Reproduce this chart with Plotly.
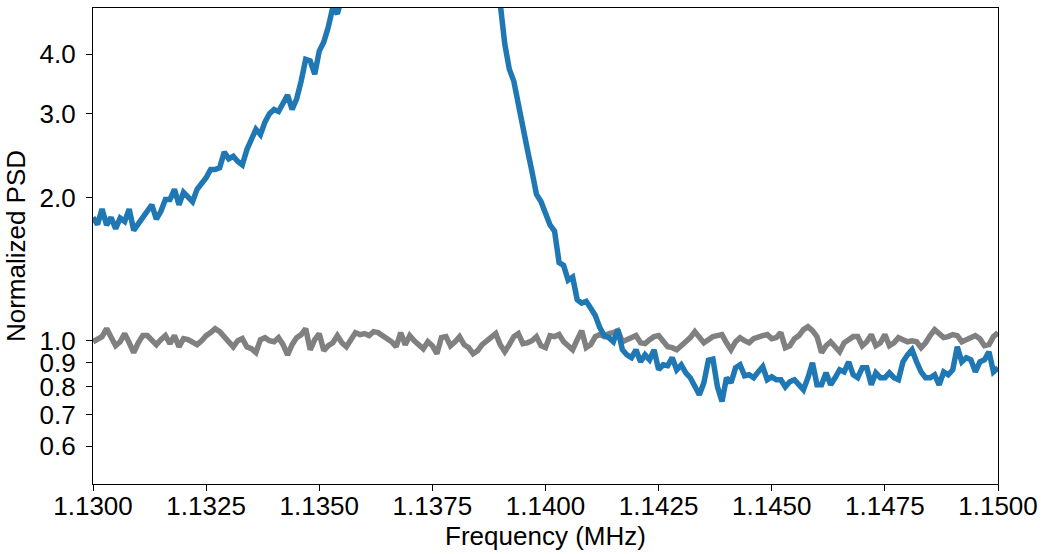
import plotly.graph_objects as go

freq_mhz = [
    1.1300, 1.1301, 1.1302, 1.1303, 1.1304, 1.1305, 1.1306, 1.1307, 1.1308, 1.1309,
    1.1310, 1.1311, 1.1312, 1.1313, 1.1314, 1.1315, 1.1316, 1.1317, 1.1318, 1.1319,
    1.1320, 1.1321, 1.1322, 1.1323, 1.1324, 1.1325, 1.1326, 1.1327, 1.1328, 1.1329,
    1.1330, 1.1331, 1.1332, 1.1333, 1.1334, 1.1335, 1.1336, 1.1337, 1.1338, 1.1339,
    1.1340, 1.1341, 1.1342, 1.1343, 1.1344, 1.1345, 1.1346, 1.1347, 1.1348, 1.1349,
    1.1350, 1.1351, 1.1352, 1.1353, 1.1354, 1.1355, 1.1356, 1.1357, 1.1358, 1.1359,
    1.1360, 1.1361, 1.1362, 1.1363, 1.1364, 1.1365, 1.1366, 1.1367, 1.1368, 1.1369,
    1.1370, 1.1371, 1.1372, 1.1373, 1.1374, 1.1375, 1.1376, 1.1377, 1.1378, 1.1379,
    1.1380, 1.1381, 1.1382, 1.1383, 1.1384, 1.1385, 1.1386, 1.1387, 1.1388, 1.1389,
    1.1390, 1.1391, 1.1392, 1.1393, 1.1394, 1.1395, 1.1396, 1.1397, 1.1398, 1.1399,
    1.1400, 1.1401, 1.1402, 1.1403, 1.1404, 1.1405, 1.1406, 1.1407, 1.1408, 1.1409,
    1.1410, 1.1411, 1.1412, 1.1413, 1.1414, 1.1415, 1.1416, 1.1417, 1.1418, 1.1419,
    1.1420, 1.1421, 1.1422, 1.1423, 1.1424, 1.1425, 1.1426, 1.1427, 1.1428, 1.1429,
    1.1430, 1.1431, 1.1432, 1.1433, 1.1434, 1.1435, 1.1436, 1.1437, 1.1438, 1.1439,
    1.1440, 1.1441, 1.1442, 1.1443, 1.1444, 1.1445, 1.1446, 1.1447, 1.1448, 1.1449,
    1.1450, 1.1451, 1.1452, 1.1453, 1.1454, 1.1455, 1.1456, 1.1457, 1.1458, 1.1459,
    1.1460, 1.1461, 1.1462, 1.1463, 1.1464, 1.1465, 1.1466, 1.1467, 1.1468, 1.1469,
    1.1470, 1.1471, 1.1472, 1.1473, 1.1474, 1.1475, 1.1476, 1.1477, 1.1478, 1.1479,
    1.1480, 1.1481, 1.1482, 1.1483, 1.1484, 1.1485, 1.1486, 1.1487, 1.1488, 1.1489,
    1.1490, 1.1491, 1.1492, 1.1493, 1.1494, 1.1495, 1.1496, 1.1497, 1.1498, 1.1499,
    1.1500,
]

psd_reference = [
    0.995, 1.005, 1.02, 1.06, 1.02, 0.976, 0.995, 1.035, 0.99, 0.944,
    0.99, 1.025, 1.025, 1.005, 0.981, 1.005, 1.025, 0.986, 1.025, 0.971,
    1.01, 1.005, 0.99, 0.981, 1.0, 1.025, 1.04, 1.06, 1.045, 1.02,
    0.986, 0.971, 1.0, 1.01, 0.971, 0.962, 0.944, 1.005, 1.015, 1.0,
    0.995, 1.015, 0.981, 0.934, 0.981, 1.015, 1.03, 1.06, 0.957, 1.005,
    1.035, 0.953, 0.976, 0.99, 1.025, 0.99, 0.971, 1.005, 1.04, 1.03,
    1.035, 1.025, 1.045, 1.04, 1.025, 1.015, 0.995, 0.971, 1.04, 0.981,
    1.025, 1.0, 0.976, 0.962, 0.995, 0.976, 0.939, 1.015, 1.02, 0.976,
    0.995, 1.02, 0.981, 0.967, 0.939, 0.953, 0.981, 1.0, 1.02, 1.035,
    0.981, 0.948, 0.981, 1.02, 1.035, 0.986, 0.99, 1.0, 1.02, 0.976,
    0.967, 1.025, 1.02, 1.03, 0.995, 0.971, 0.957, 1.005, 1.05, 0.967,
    0.981, 1.02, 1.03, 1.02, 1.035, 1.04, 1.05, 0.995, 1.005, 1.02,
    1.025, 0.99, 0.986, 1.005, 1.02, 1.025, 0.995, 0.971, 0.967, 0.957,
    0.976, 0.995, 1.015, 1.045, 1.015, 0.99, 1.005, 1.02, 1.025, 1.03,
    0.99, 0.957, 0.995, 1.015, 1.0, 0.99, 1.01, 1.02, 1.025, 1.03,
    1.01, 1.015, 1.04, 0.967, 0.976, 1.01, 1.025, 1.055, 1.07, 1.05,
    1.02, 0.944, 0.976, 0.995, 0.971, 0.948, 0.99, 1.005, 1.02, 1.02,
    0.976, 0.995, 1.03, 0.976, 0.99, 1.03, 0.976, 0.99, 1.015, 1.005,
    0.995, 1.0, 0.995, 0.967, 0.99, 1.025, 1.055, 1.035, 1.015, 1.02,
    1.03, 1.025, 0.995, 1.005, 1.015, 1.025, 1.01, 0.976, 0.981, 1.02,
    1.04,
]

psd_signal = [
    1.815, 1.755, 1.89, 1.75, 1.815, 1.72, 1.81, 1.78, 1.89, 1.705,
    1.76, 1.815, 1.86, 1.93, 1.80, 1.87, 1.98, 1.98, 2.08, 1.93,
    2.05, 2.00, 1.96, 2.08, 2.14, 2.20, 2.29, 2.29, 2.31, 2.49,
    2.41, 2.44, 2.38, 2.34, 2.52, 2.65, 2.78, 2.71, 2.88, 3.00,
    3.06, 3.03, 3.14, 3.28, 3.06, 3.22, 3.51, 3.90, 3.87, 3.63,
    4.06, 4.24, 4.56, 5.02, 4.86, 5.2, 5.6, 6.1, 6.6, 7.2,
    7.9, 8.6, 9.4, 10.2, 11.1, 12.0, 13.0, 14.0, 15.0, 16.0,
    16.8, 17.4, 17.8, 18.0, 17.9, 17.5, 16.8, 15.9, 14.8, 14.4,
    14.0, 13.0, 12.0, 11.0, 10.0, 9.0, 8.1, 7.3, 6.5, 5.8,
    5.1, 4.2, 3.72, 3.51, 3.11, 2.78, 2.52, 2.27, 2.03, 1.96,
    1.86, 1.75, 1.70, 1.46, 1.44, 1.34, 1.36, 1.22, 1.20, 1.21,
    1.17, 1.13, 1.065, 1.025, 1.015, 0.995, 1.055, 0.957, 0.934, 0.921,
    0.957, 0.903, 0.934, 0.912, 0.957, 0.869, 0.890, 0.886, 0.921, 0.869,
    0.890, 0.856, 0.836, 0.800, 0.770, 0.816, 0.910, 0.915, 0.800, 0.745,
    0.836, 0.816, 0.877, 0.890, 0.844, 0.848, 0.836, 0.860, 0.882, 0.828,
    0.840, 0.828, 0.828, 0.800, 0.820, 0.828, 0.804, 0.789, 0.836, 0.899,
    0.808, 0.808, 0.856, 0.808, 0.836, 0.869, 0.860, 0.903, 0.848, 0.836,
    0.877, 0.877, 0.808, 0.856, 0.836, 0.836, 0.856, 0.836, 0.828, 0.903,
    0.934, 0.957, 0.903, 0.860, 0.836, 0.836, 0.848, 0.808, 0.860, 0.848,
    0.869, 0.971, 0.903, 0.921, 0.912, 0.860, 0.903, 0.912, 0.948, 0.860,
    0.877,
]

x_tick_vals = [1.13, 1.1325, 1.135, 1.1375, 1.14, 1.1425, 1.145, 1.1475, 1.15]
x_tick_text = ["1.1300", "1.1325", "1.1350", "1.1375", "1.1400",
               "1.1425", "1.1450", "1.1475", "1.1500"]
y_tick_vals = [0.6, 0.7, 0.8, 0.9, 1.0, 2.0, 3.0, 4.0]
y_tick_text = ["0.6", "0.7", "0.8", "0.9", "1.0", "2.0", "3.0", "4.0"]

FONT = "Liberation Sans, Arial, sans-serif"
FS = 26

fig = go.Figure()
fig.add_trace(go.Scatter(
    x=freq_mhz, y=psd_reference, mode="lines",
    line=dict(color="#808080", width=5.5), showlegend=False,
))
fig.add_trace(go.Scatter(
    x=freq_mhz, y=psd_signal, mode="lines",
    line=dict(color="#1f77b4", width=5.5), showlegend=False,
))

axis_common = dict(
    showline=True, linecolor="black", linewidth=1.2, mirror=True,
    ticks="outside", ticklen=6, tickwidth=1.2, tickcolor="black",
    showgrid=False, zeroline=False, automargin=False,
    tickfont=dict(family=FONT, size=FS, color="black"),
)

fig.update_xaxes(
    range=[1.13, 1.15], tickvals=x_tick_vals, ticktext=x_tick_text,
    ticklabelstandoff=-7,
    title=dict(text="Frequency (MHz)", font=dict(family=FONT, size=FS, color="black"), standoff=0),
    **axis_common,
)
fig.update_yaxes(
    type="log", range=[-0.30103, 0.69897], tickvals=y_tick_vals, ticktext=y_tick_text,
    ticklabelstandoff=5,
    title=dict(text="Normalized PSD", font=dict(family=FONT, size=FS, color="black"), standoff=6),
    **axis_common,
)

fig.update_layout(
    width=1043, height=554,
    margin=dict(l=93, r=45, t=8, b=70),
    paper_bgcolor="white", plot_bgcolor="white",
    font=dict(family=FONT, size=FS, color="black"),
)

fig.write_html("out.html")
